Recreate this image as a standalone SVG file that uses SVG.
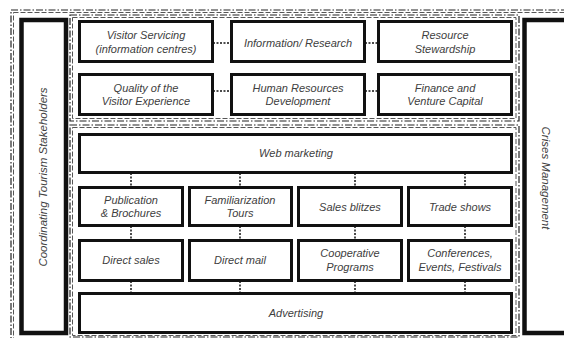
<svg xmlns="http://www.w3.org/2000/svg" width="564" height="338" viewBox="0 0 564 338">
  <style>
    .frame { fill: none; stroke: #222; stroke-width: 1.2; stroke-dasharray: 7 2 1.5 2; }
    .frame2 { fill: none; stroke: #555; stroke-width: 1; stroke-dasharray: 5 2; }
    .box { fill: #fff; stroke: #111; stroke-width: 3; }
    .side { fill: #fff; stroke: #111; stroke-width: 4.5; }
    .lbl { font-family: "Liberation Sans", Arial, sans-serif; font-style: italic; font-size: 11px; fill: #404040; text-anchor: middle; }
    .link { stroke: #111; stroke-width: 1.5; stroke-dasharray: 2 1.5; fill: none; }
  </style>
  <rect width="564" height="338" fill="#fff"/>

  <!-- outer frame -->
  <g id="outer-frame">
    <rect class="frame" x="11" y="10" width="560" height="340"/>
    <rect class="frame2" x="13.5" y="12.5" width="560" height="340"/>
  </g>

  <!-- dash-dot containers -->
  <g id="container-top">
    <rect class="frame" x="70" y="15" width="449" height="106"/>
    <rect class="frame2" x="72.5" y="17.5" width="443.5" height="101"/>
  </g>
  <g id="container-bottom">
    <rect class="frame" x="70" y="125" width="449" height="212"/>
    <rect class="frame2" x="72.5" y="127.5" width="443.5" height="208"/>
  </g>

  <!-- side bars -->
  <g id="stakeholders">
    <rect class="side" x="21.5" y="20" width="44.5" height="313"/>
    <text class="lbl" font-size="11.5" style="font-size:11.5px" transform="translate(47 177) rotate(-90)">Coordinating Tourism Stakeholders</text>
  </g>
  <g id="crises">
    <rect class="side" x="524.5" y="20" width="50" height="313"/>
    <text class="lbl" style="font-size:11.5px" transform="translate(542 178) rotate(90)">Crises Management</text>
  </g>

  <!-- connectors -->
  <g id="connectors">
    <line class="link" x1="213" y1="43" x2="230" y2="43"/>
    <line class="link" x1="365" y1="43" x2="377" y2="43"/>
    <line class="link" x1="213" y1="91" x2="230" y2="91"/>
    <line class="link" x1="365" y1="91" x2="377" y2="91"/>

    <line class="link" x1="131" y1="173" x2="131" y2="186"/>
    <line class="link" x1="240" y1="173" x2="240" y2="186"/>
    <line class="link" x1="355" y1="173" x2="355" y2="186"/>
    <line class="link" x1="465" y1="173" x2="465" y2="186"/>

    <line class="link" x1="131" y1="226" x2="131" y2="239"/>
    <line class="link" x1="240" y1="226" x2="240" y2="239"/>
    <line class="link" x1="355" y1="226" x2="355" y2="239"/>
    <line class="link" x1="465" y1="226" x2="465" y2="239"/>

    <line class="link" x1="131" y1="281" x2="131" y2="293"/>
    <line class="link" x1="240" y1="281" x2="240" y2="293"/>
    <line class="link" x1="355" y1="281" x2="355" y2="293"/>
    <line class="link" x1="465" y1="281" x2="465" y2="293"/>
  </g>

  <!-- upper block -->
  <g id="visitor-servicing">
    <rect class="box" x="79.5" y="21.5" width="133" height="40"/>
    <text class="lbl" x="146" y="39">Visitor Servicing</text>
    <text class="lbl" x="146" y="53">(information centres)</text>
  </g>
  <g id="information-research">
    <rect class="box" x="231.5" y="21.5" width="133" height="40"/>
    <text class="lbl" x="298" y="47">Information/ Research</text>
  </g>
  <g id="resource-stewardship">
    <rect class="box" x="378.5" y="21.5" width="133" height="40"/>
    <text class="lbl" x="445" y="39">Resource</text>
    <text class="lbl" x="445" y="53">Stewardship</text>
  </g>
  <g id="visitor-experience">
    <rect class="box" x="79.5" y="74.5" width="133" height="40"/>
    <text class="lbl" x="146" y="92">Quality of the</text>
    <text class="lbl" x="146" y="105">Visitor Experience</text>
  </g>
  <g id="human-resources">
    <rect class="box" x="231.5" y="74.5" width="133" height="40"/>
    <text class="lbl" x="298" y="92">Human Resources</text>
    <text class="lbl" x="298" y="105">Development</text>
  </g>
  <g id="finance">
    <rect class="box" x="378.5" y="74.5" width="133" height="40"/>
    <text class="lbl" x="445" y="92">Finance and</text>
    <text class="lbl" x="445" y="105">Venture Capital</text>
  </g>

  <!-- lower block -->
  <g id="web-marketing">
    <rect class="box" x="79.5" y="134.5" width="432" height="38"/>
    <text class="lbl" x="296" y="157">Web marketing</text>
  </g>

  <g id="publication">
    <rect class="box" x="79.5" y="187.5" width="103" height="38"/>
    <text class="lbl" x="131" y="204">Publication</text>
    <text class="lbl" x="131" y="217">&amp; Brochures</text>
  </g>
  <g id="familiarization">
    <rect class="box" x="189.5" y="187.5" width="102" height="38"/>
    <text class="lbl" x="240" y="204">Familiarization</text>
    <text class="lbl" x="240" y="217">Tours</text>
  </g>
  <g id="sales-blitzes">
    <rect class="box" x="298.5" y="187.5" width="103" height="38"/>
    <text class="lbl" x="350" y="211">Sales blitzes</text>
  </g>
  <g id="trade-shows">
    <rect class="box" x="408.5" y="187.5" width="103" height="38"/>
    <text class="lbl" x="460" y="211">Trade shows</text>
  </g>

  <g id="direct-sales">
    <rect class="box" x="79.5" y="240.5" width="103" height="40"/>
    <text class="lbl" x="131" y="264">Direct sales</text>
  </g>
  <g id="direct-mail">
    <rect class="box" x="189.5" y="240.5" width="102" height="40"/>
    <text class="lbl" x="240" y="264">Direct mail</text>
  </g>
  <g id="cooperative">
    <rect class="box" x="298.5" y="240.5" width="103" height="40"/>
    <text class="lbl" x="350" y="257">Cooperative</text>
    <text class="lbl" x="350" y="271">Programs</text>
  </g>
  <g id="conferences">
    <rect class="box" x="408.5" y="240.5" width="103" height="40"/>
    <text class="lbl" x="460" y="257">Conferences,</text>
    <text class="lbl" x="460" y="271">Events, Festivals</text>
  </g>

  <g id="advertising">
    <rect class="box" x="79.5" y="293.5" width="432" height="39"/>
    <text class="lbl" x="296" y="317">Advertising</text>
  </g>
</svg>
